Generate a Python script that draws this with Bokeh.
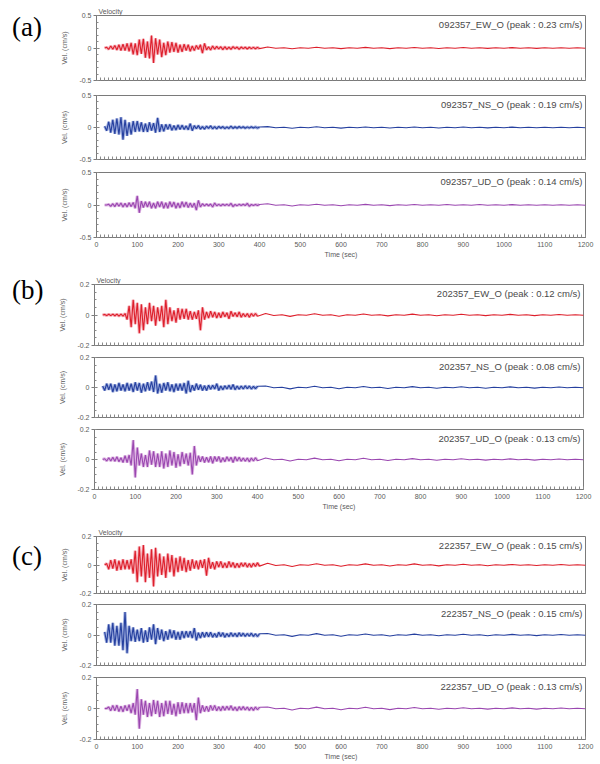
from bokeh.plotting import figure
from bokeh.models import FixedTicker, Label, Range1d, Div
from bokeh.layouts import column, row
from bokeh.embed import file_html
from bokeh.resources import INLINE

# sample grid (s): every 5 s to 400 s (strong-motion part), every 20 s afterwards
TIME = list(range(20, 401, 5)) + list(range(420, 1201, 20))
N_STRONG = len(range(20, 401, 5))

# ---------------- (a) station 092357 ----------------
A_EW = [0.0, 0.01, -0.02, 0.03, -0.02, 0.04, -0.03, 0.05, -0.04, 0.06,
        -0.04, 0.07, -0.05, 0.08, -0.1, 0.07, -0.11, 0.13, -0.09, 0.14,
        -0.15, 0.1, -0.16, 0.19, -0.23, 0.15, -0.1, 0.13, -0.14, 0.08,
        -0.11, 0.1, -0.07, 0.09, -0.06, 0.08, -0.07, 0.05, -0.06, 0.06,
        -0.04, 0.05, -0.05, 0.03, -0.04, 0.04, -0.02, 0.05, -0.08, 0.07,
        -0.03, 0.02, -0.03, 0.03, -0.02, 0.025, -0.015, 0.02, -0.025, 0.02,
        -0.02, 0.015, -0.02, 0.02, -0.01, 0.015, -0.02, 0.015, -0.01, 0.012,
        -0.015, 0.012, -0.01, 0.01, -0.012, 0.01, -0.01,
        0.015, -0.004, 0.004, -0.012, 0.003, -0.003, 0.012, -0.003, 0.003, -0.01,
        0.003, -0.003, 0.01, -0.003, 0.003, -0.009, 0.003, -0.003, 0.008, -0.003,
        0.003, -0.008, 0.003, -0.003, 0.007, -0.003, 0.003, -0.006, 0.003, -0.003,
        0.006, -0.003, 0.003, -0.006, 0.003, -0.003, 0.005, -0.003, 0.003, -0.003]
A_NS = [0.02, -0.05, 0.09, -0.08, 0.12, -0.1, 0.14, -0.11, 0.16, -0.19,
        0.12, -0.13, 0.08, -0.11, 0.1, -0.07, 0.1, -0.06, 0.08, -0.07,
        0.06, -0.07, 0.08, -0.05, 0.07, -0.08, 0.15, -0.07, 0.05, -0.06,
        0.05, -0.03, 0.05, -0.045, 0.03, -0.04, 0.04, -0.03, 0.035, -0.03,
        0.025, -0.035, 0.06, -0.05, 0.03, -0.02, 0.03, -0.025, 0.015, -0.025,
        0.02, -0.015, 0.025, -0.02, 0.015, -0.02, 0.018, -0.012, 0.015, -0.018,
        0.01, -0.015, 0.02, -0.015, 0.012, -0.012, 0.015, -0.01, 0.012, -0.012,
        0.01, -0.01, 0.012, -0.008, 0.01, -0.01, 0.008,
        0.014, -0.003, 0.003, -0.012, 0.003, -0.003, 0.011, -0.003, 0.003, -0.01,
        0.003, -0.003, 0.009, -0.003, 0.003, -0.008, 0.003, -0.003, 0.008, -0.003,
        0.003, -0.007, 0.003, -0.003, 0.007, -0.003, 0.003, -0.006, 0.003, -0.003,
        0.006, -0.003, 0.003, -0.005, 0.003, -0.003, 0.005, -0.003, 0.003, -0.003]
A_UD = [0.0, 0.0, 0.01, -0.02, 0.02, -0.025, 0.03, -0.02, 0.03, -0.03,
        0.025, -0.03, 0.035, -0.025, 0.04, -0.05, 0.14, -0.12, 0.06, -0.04,
        0.05, -0.03, 0.05, -0.05, 0.03, -0.05, 0.05, -0.03, 0.05, -0.05,
        0.035, -0.05, 0.05, -0.03, 0.045, -0.05, 0.03, -0.045, 0.05, -0.03,
        0.045, -0.04, 0.03, -0.035, 0.03, -0.08, 0.07, -0.03, 0.02, -0.015,
        0.015, -0.012, 0.015, -0.03, 0.03, -0.012, 0.01, -0.012, 0.012, -0.008,
        0.01, -0.01, 0.025, -0.025, 0.008, -0.01, 0.01, -0.008, 0.01, -0.008,
        0.025, -0.02, 0.008, -0.008, 0.008, -0.006, 0.008,
        0.02, -0.003, 0.003, -0.015, 0.003, -0.003, 0.012, -0.003, 0.003, -0.012,
        0.003, -0.003, 0.01, -0.003, 0.003, -0.01, 0.003, -0.003, 0.008, -0.003,
        0.003, -0.003, 0.008, -0.003, 0.003, -0.003, 0.008, -0.003, 0.003, -0.003,
        0.006, -0.003, 0.003, -0.003, 0.005, -0.003, 0.003, -0.003, 0.003, -0.003]

# ---------------- (b) station 202357 ----------------
B_EW = [0.0, 0.003, -0.004, 0.005, -0.004, 0.006, -0.005, 0.006, -0.007, 0.006,
        -0.008, 0.01, -0.03, 0.06, -0.08, 0.1, -0.06, 0.08, -0.12, 0.07,
        -0.1, 0.05, -0.06, 0.08, -0.04, 0.06, -0.07, 0.05, -0.04, 0.06,
        -0.08, 0.1, -0.06, 0.05, -0.04, 0.03, -0.05, 0.045, -0.03, 0.04,
        -0.025, 0.04, -0.03, 0.025, -0.03, 0.02, -0.025, 0.03, -0.1, 0.05,
        -0.03, 0.02, -0.02, 0.025, -0.015, 0.02, -0.02, 0.015, -0.018, 0.02,
        -0.012, 0.015, -0.025, 0.025, -0.01, 0.015, -0.012, 0.02, -0.015, 0.01,
        -0.012, 0.01, -0.015, 0.01, -0.008, 0.01, -0.008,
        0.01, -0.003, 0.002, -0.009, 0.002, -0.002, 0.008, -0.002, 0.002, -0.008,
        0.002, -0.002, 0.007, -0.002, 0.002, -0.006, 0.002, -0.002, 0.006, -0.002,
        0.002, -0.005, 0.002, -0.002, 0.005, -0.002, 0.002, -0.004, 0.002, -0.002,
        0.004, -0.002, 0.002, -0.004, 0.002, -0.002, 0.003, -0.002, 0.002, -0.002]
B_NS = [0.01, -0.02, 0.025, -0.015, 0.025, -0.03, 0.02, -0.025, 0.03, -0.02,
        0.02, -0.025, 0.03, -0.02, 0.025, -0.03, 0.035, -0.02, 0.03, -0.035,
        0.025, -0.025, 0.035, -0.02, 0.04, -0.03, 0.08, -0.04, 0.025, -0.035,
        0.03, -0.02, 0.035, -0.025, 0.02, -0.03, 0.025, -0.02, 0.025, -0.02,
        0.03, -0.04, 0.045, -0.03, 0.015, -0.02, 0.025, -0.015, 0.018, -0.02,
        0.012, -0.02, 0.015, -0.012, 0.015, -0.01, 0.025, -0.02, 0.01, -0.015,
        0.012, -0.01, 0.015, -0.012, 0.02, -0.015, 0.01, -0.012, 0.01, -0.01,
        0.012, -0.008, 0.01, -0.01, 0.008, -0.008, 0.008,
        0.01, -0.002, 0.002, -0.009, 0.002, -0.002, 0.008, -0.002, 0.002, -0.008,
        0.002, -0.002, 0.007, -0.002, 0.002, -0.007, 0.002, -0.002, 0.006, -0.002,
        0.002, -0.005, 0.002, -0.002, 0.005, -0.002, 0.002, -0.005, 0.002, -0.002,
        0.004, -0.002, 0.002, -0.004, 0.002, -0.002, 0.003, -0.002, 0.002, -0.002]
B_UD = [0.0, 0.005, -0.01, 0.012, -0.01, 0.015, -0.012, 0.018, -0.015, 0.012,
        -0.02, 0.025, -0.02, 0.03, -0.04, 0.13, -0.12, 0.08, -0.04, 0.04,
        -0.05, 0.03, -0.05, 0.06, -0.035, 0.055, -0.05, 0.04, -0.05, 0.055,
        -0.06, 0.04, -0.05, 0.06, -0.04, 0.05, -0.055, 0.035, -0.045, 0.05,
        -0.03, 0.04, -0.04, 0.045, -0.1, 0.09, -0.04, 0.025, -0.015, 0.02,
        -0.02, 0.015, -0.018, 0.02, -0.025, 0.02, -0.012, 0.02, -0.018, 0.012,
        -0.015, 0.018, -0.01, 0.015, -0.02, 0.018, -0.01, 0.015, -0.012, 0.01,
        -0.012, 0.01, -0.015, 0.01, -0.01, 0.012, -0.008,
        0.01, -0.002, 0.002, -0.01, 0.002, -0.002, 0.009, -0.002, 0.002, -0.008,
        0.002, -0.002, 0.008, -0.002, 0.002, -0.007, 0.002, -0.002, 0.006, -0.002,
        0.002, -0.005, 0.002, -0.002, 0.005, -0.002, 0.002, -0.004, 0.002, -0.002,
        0.004, -0.002, 0.002, -0.004, 0.002, -0.002, 0.003, -0.002, 0.002, -0.002]

# ---------------- (c) station 222357 ----------------
C_EW = [0.0, 0.01, -0.03, 0.035, -0.025, 0.04, -0.04, 0.03, -0.035, 0.04,
        -0.03, 0.035, -0.03, 0.04, -0.06, 0.1, -0.12, 0.13, -0.08, 0.14,
        -0.12, 0.08, -0.09, 0.11, -0.15, 0.12, -0.08, 0.08, -0.07, 0.06,
        -0.09, 0.08, -0.05, 0.07, -0.08, 0.05, -0.05, 0.06, -0.04, 0.05,
        -0.05, 0.035, -0.04, 0.04, -0.025, 0.03, -0.03, 0.035, -0.02, 0.04,
        -0.075, 0.05, -0.025, 0.02, -0.03, 0.025, -0.015, 0.025, -0.02, 0.015,
        -0.02, 0.025, -0.015, 0.018, -0.02, 0.012, -0.018, 0.015, -0.01, 0.015,
        -0.015, 0.01, -0.015, 0.012, -0.01, 0.015, -0.008,
        0.012, -0.003, 0.002, -0.01, 0.002, -0.002, 0.009, -0.002, 0.002, -0.009,
        0.002, -0.002, 0.008, -0.002, 0.002, -0.007, 0.002, -0.002, 0.008, -0.002,
        0.002, -0.006, 0.002, -0.002, 0.005, -0.002, 0.002, -0.005, 0.002, -0.002,
        0.004, -0.002, 0.002, -0.004, 0.002, -0.002, 0.004, -0.002, 0.002, -0.002]
C_NS = [0.02, -0.05, 0.07, -0.05, 0.08, -0.07, 0.06, -0.07, 0.08, -0.1,
        0.15, -0.12, 0.06, -0.04, 0.05, -0.045, 0.035, -0.04, 0.045, -0.05,
        0.03, -0.045, 0.05, -0.03, 0.07, -0.06, 0.045, -0.03, 0.035, -0.04,
        0.025, -0.03, 0.035, -0.02, 0.03, -0.03, 0.02, -0.03, 0.025, -0.02,
        0.025, -0.015, 0.025, -0.02, 0.045, -0.035, 0.015, -0.02, 0.018, -0.015,
        0.018, -0.012, 0.018, -0.015, 0.01, -0.015, 0.018, -0.01, 0.015, -0.015,
        0.01, -0.012, 0.015, -0.01, 0.012, -0.012, 0.015, -0.008, 0.012, -0.01,
        0.01, -0.008, 0.012, -0.01, 0.008, -0.01, 0.008,
        0.01, -0.002, 0.002, -0.009, 0.002, -0.002, 0.009, -0.002, 0.002, -0.008,
        0.002, -0.002, 0.007, -0.002, 0.002, -0.007, 0.002, -0.002, 0.006, -0.002,
        0.002, -0.005, 0.002, -0.002, 0.005, -0.002, 0.002, -0.005, 0.002, -0.002,
        0.004, -0.002, 0.002, -0.004, 0.002, -0.002, 0.003, -0.002, 0.002, -0.002]
C_UD = [0.0, 0.0, 0.01, -0.015, 0.02, -0.015, 0.022, -0.02, 0.015, -0.022,
        0.02, -0.015, 0.025, -0.03, 0.035, -0.04, 0.125, -0.13, 0.06, -0.04,
        0.05, -0.055, 0.035, -0.05, 0.055, -0.035, 0.05, -0.055, 0.035, -0.05,
        0.05, -0.035, 0.05, -0.04, 0.03, -0.05, 0.04, -0.035, 0.04, -0.03,
        0.035, -0.03, 0.035, -0.025, 0.035, -0.075, 0.07, -0.03, 0.02, -0.02,
        0.015, -0.02, 0.02, -0.012, 0.02, -0.015, 0.012, -0.015, 0.015, -0.012,
        0.015, -0.01, 0.018, -0.012, 0.01, -0.015, 0.012, -0.01, 0.012, -0.01,
        0.01, -0.012, 0.008, -0.012, 0.01, -0.008, 0.008,
        0.01, -0.002, 0.002, -0.01, 0.002, -0.002, 0.009, -0.002, 0.002, -0.008,
        0.002, -0.002, 0.008, -0.002, 0.002, -0.007, 0.002, -0.002, 0.006, -0.002,
        0.002, -0.005, 0.002, -0.002, 0.005, -0.002, 0.002, -0.004, 0.002, -0.002,
        0.004, -0.002, 0.002, -0.004, 0.002, -0.002, 0.003, -0.002, 0.002, -0.002]

STATIONS = ["092357", "202357", "222357"]
COMPONENTS = ["EW", "NS", "UD"]
PEAKS = [[0.23, 0.19, 0.14], [0.12, 0.08, 0.13], [0.15, 0.15, 0.13]]
YMAX = [0.5, 0.2, 0.2]
TAGS = ["(a)", "(b)", "(c)"]
TRACES = [[A_EW, A_NS, A_UD], [B_EW, B_NS, B_UD], [C_EW, C_NS, C_UD]]
X_TICKS = [0, 100, 200, 300, 400, 500, 600, 700, 800, 900, 1000, 1100, 1200]
X_MINOR = list(range(0, 1201, 10))

COLORS = {"EW": "#dd1f2b", "NS": "#26409f", "UD": "#9a47b0"}
HALO = {"EW": "#f4a3ae", "NS": "#93a4da", "UD": "#d9addf"}
FONT = "Liberation Sans"
TEXT_GREY = "#5a5a5a"

# layout (pixels): per group, per panel: (top border, frame height, bottom border)
LAYOUT = [
    [(15, 65, 7), (8, 64, 6), (7, 65, 25)],
    [(22, 61, 6), (6, 60, 6), (6, 60, 25)],
    [(22, 57, 5), (6, 61, 6), (6, 62, 25)],
]
TAG_W = 46
LEFT = [96, 94, 96]
FRAME_W = 489
TAG_TOP = [14, 15, 29]


def panel(gi, ci):
    top, fh, bottom = LAYOUT[gi][ci]
    left = LEFT[gi] - TAG_W
    width = 600 - TAG_W
    ymax = YMAX[gi]
    comp = COMPONENTS[ci]
    p = figure(width=width, height=top + fh + bottom,
               min_border_left=left, min_border_right=width - left - FRAME_W,
               min_border_top=top, min_border_bottom=bottom,
               x_range=Range1d(0, 1200), y_range=Range1d(-ymax, ymax),
               output_backend="svg", toolbar_location=None)
    p.grid.visible = False
    p.outline_line_color = "#7a7a7a"
    p.background_fill_color = "white"
    p.border_fill_color = "white"

    y = TRACES[gi][ci]
    # soft halo under the strong-motion part, then the trace itself
    p.line(TIME[:N_STRONG], y[:N_STRONG], line_color=HALO[comp], line_width=3.0, line_alpha=0.9)
    p.line(TIME, y, line_color=COLORS[comp], line_width=1.1)

    # x axis
    xa = p.xaxis[0]
    xa.axis_line_color = "#7a7a7a"
    xa.major_tick_line_color = "#7a7a7a"
    xa.minor_tick_line_color = "#8a8a8a"
    xa.major_tick_in = 4
    xa.major_tick_out = 0
    xa.minor_tick_in = 3
    xa.minor_tick_out = 0
    if ci == 2:
        xa.ticker = FixedTicker(ticks=X_TICKS, minor_ticks=X_MINOR)
        xa.major_label_text_font_size = "7px"
        xa.major_label_text_font = FONT
        xa.major_label_text_color = TEXT_GREY
        xa.major_label_standoff = 4
        xa.axis_label = "Time (sec)"
        xa.axis_label_text_font_size = "7px"
        xa.axis_label_text_font = FONT
        xa.axis_label_text_font_style = "normal"
        xa.axis_label_text_color = TEXT_GREY
        xa.axis_label_standoff = 1
    else:
        xa.ticker = FixedTicker(ticks=[], minor_ticks=X_MINOR)
        xa.major_label_standoff = 0

    # y axis
    ya = p.yaxis[0]
    if ymax == 0.5:
        yt = [-0.5, 0, 0.5]
        ym = [-0.5, -0.4, -0.3, -0.2, -0.1, 0, 0.1, 0.2, 0.3, 0.4, 0.5]
        ylab = {-0.5: "-0.5", 0: "0", 0.5: "0.5"}
    else:
        yt = [-0.2, 0, 0.2]
        ym = [-0.2, -0.15, -0.1, -0.05, 0, 0.05, 0.1, 0.15, 0.2]
        ylab = {-0.2: "-0.2", 0: "0", 0.2: "0.2"}
    ya.ticker = FixedTicker(ticks=yt, minor_ticks=ym)
    ya.major_label_overrides = ylab
    ya.axis_line_color = "#7a7a7a"
    ya.major_tick_line_color = "#7a7a7a"
    ya.minor_tick_line_color = "#8a8a8a"
    ya.major_tick_in = 3
    ya.major_tick_out = 3
    ya.minor_tick_in = 2
    ya.minor_tick_out = 0
    ya.major_label_text_font_size = "7px"
    ya.major_label_text_font = FONT
    ya.major_label_text_color = TEXT_GREY
    ya.major_label_standoff = 2
    ya.axis_label = "Vel. (cm/s)"
    ya.axis_label_text_font_size = "7px"
    ya.axis_label_text_font = FONT
    ya.axis_label_text_font_style = "normal"
    ya.axis_label_text_color = TEXT_GREY
    ya.axis_label_standoff = 8

    # station / peak annotation
    txt = f"{STATIONS[gi]}_{comp}_O (peak : {PEAKS[gi][ci]:.2f} cm/s)"
    p.add_layout(Label(x=FRAME_W - 3, y=fh - 3, x_units="screen", y_units="screen",
                       text=txt, text_align="right", text_baseline="top",
                       text_font=FONT, text_font_size="9.5px", text_color="#4a4a4a"))
    if ci == 0:
        p.title.text = "Velocity"
        p.title.text_font = FONT
        p.title.text_font_size = "7px"
        p.title.text_font_style = "normal"
        p.title.text_color = TEXT_GREY
        p.title.align = "left"
        p.title.offset = 2
        p.title.standoff = 1
    return p


for tr in TRACES:
    for s in tr:
        assert len(s) == len(TIME), (len(s), len(TIME))

groups = []
for g in range(3):
    panels = [panel(g, c) for c in range(3)]
    gh = sum(sum(LAYOUT[g][c]) for c in range(3))
    tag = Div(text=TAGS[g], width=TAG_W, height=gh,
              styles={"font-family": "Liberation Serif", "font-size": "27px",
                      "line-height": "27px", "color": "black",
                      "padding-top": f"{TAG_TOP[g]}px", "padding-left": "12px",
                      "margin": "0", "box-sizing": "border-box"})
    groups.append(row(tag, column(*panels, spacing=0), spacing=0))

layout = column(*groups, spacing=0)

open("out.html", "w").write(file_html(layout, INLINE))
